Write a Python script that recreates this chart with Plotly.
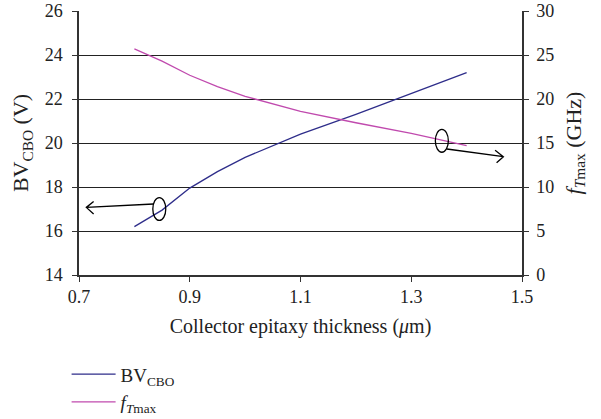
import plotly.graph_objects as go

# Data
thickness = [0.8, 0.85, 0.9, 0.95, 1.0, 1.1, 1.2, 1.3, 1.4]
bv_cbo = [16.2, 16.95, 17.95, 18.7, 19.35, 20.4, 21.3, 22.25, 23.2]
ft_max = [25.7, 24.3, 22.7, 21.4, 20.3, 18.6, 17.3, 16.1, 14.7]

x_ticks = [0.7, 0.9, 1.1, 1.3, 1.5]
left_ticks = [14, 16, 18, 20, 22, 24, 26]
right_ticks = [0, 5, 10, 15, 20, 25, 30]

BV_COLOR = "#2E2D8A"
FT_COLOR = "#C04AAE"
FONT = "Liberation Serif"

fig = go.Figure()
fig.add_trace(go.Scatter(x=thickness, y=bv_cbo, mode="lines", name="BV<sub>CBO</sub>",
                         line=dict(color=BV_COLOR, width=1.3), yaxis="y"))
fig.add_trace(go.Scatter(x=thickness, y=ft_max, mode="lines",
                         name="<i>f</i><sub><i>T</i>max</sub>",
                         line=dict(color=FT_COLOR, width=1.3), yaxis="y2"))

shapes = []
# ellipses (left-axis data coordinates)
shapes.append(dict(type="circle", xref="x", yref="y", x0=0.8333, x1=0.8567, y0=16.48, y1=17.52,
                   line=dict(color="black", width=1.3)))
shapes.append(dict(type="circle", xref="x", yref="y", x0=1.3435, x1=1.367, y0=19.58, y1=20.62,
                   line=dict(color="black", width=1.3)))
# arrows with open chevron heads
shapes.append(dict(type="path", xref="x", yref="y",
                   path="M 0.8347 17.227 L 0.7132 17.073 M 0.7264 17.345 L 0.7132 17.073 L 0.7264 16.773",
                   line=dict(color="black", width=1.3)))
shapes.append(dict(type="path", xref="x", yref="y",
                   path="M 1.3643 19.727 L 1.4664 19.377 M 1.4514 19.673 L 1.4664 19.377 L 1.4541 19.105",
                   line=dict(color="black", width=1.3)))

fig.update_layout(
    width=601, height=419,
    margin=dict(l=79, r=79, t=11, b=144, pad=0),
    paper_bgcolor="white", plot_bgcolor="white",
    font=dict(family=FONT, size=17, color="#222"),
    showlegend=True,
    legend=dict(x=-0.028, xref="paper", y=0.152, yref="container", xanchor="left", yanchor="top",
                font=dict(family=FONT, size=19, color="#222"),
                bgcolor="rgba(0,0,0,0)", itemwidth=44, tracegroupgap=0),
    shapes=shapes,
    xaxis=dict(range=[0.7, 1.5], tickvals=x_ticks, ticktext=[f"{v:.1f}" for v in x_ticks],
               ticks="outside", ticklen=5, tickcolor="#333", tickwidth=1.3, automargin=False,
               showline=True, linecolor="#333", linewidth=1.5, showgrid=False, zeroline=False,
               title=dict(text="Collector epitaxy thickness (<i>μ</i>m)", standoff=13,
                          font=dict(family=FONT, size=20)),
               tickfont=dict(family=FONT, size=18)),
    yaxis=dict(range=[14, 26], tickvals=left_ticks, ticks="outside", ticklen=5, automargin=False,
               tickcolor="#333", tickwidth=1.3, showline=True, linecolor="#333", linewidth=1.5,
               showgrid=True, gridcolor="#222", gridwidth=1, zeroline=False,
               ticklabelstandoff=6, ticklabeloverflow="allow",
               title=dict(text="BV<sub>CBO</sub> (V)", standoff=10, font=dict(family=FONT, size=22)),
               tickfont=dict(family=FONT, size=18)),
    yaxis2=dict(range=[0, 30], tickvals=right_ticks, overlaying="y", side="right",
                ticks="outside", ticklen=5, tickcolor="#333", tickwidth=1.3, automargin=False,
                showline=True, linecolor="#333", linewidth=1.5, showgrid=False, zeroline=False,
                ticklabelstandoff=4, ticklabeloverflow="allow",
                title=dict(text="<i>f</i><sub><i>T</i>max</sub> (GHz)", standoff=12,
                           font=dict(family=FONT, size=22)),
                tickfont=dict(family=FONT, size=18)),
)

fig.write_html("out.html", config={"displayModeBar": False},
               post_script="document.body.style.margin='0px';")
